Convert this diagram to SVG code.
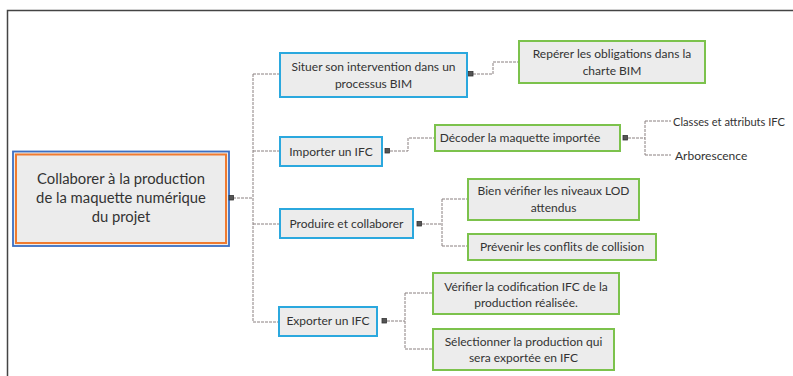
<svg xmlns="http://www.w3.org/2000/svg" width="793" height="376" viewBox="0 0 793 376">
<style>
text{font-family:Lato,"Liberation Sans",sans-serif;fill:#333;text-anchor:middle}
.t{font-size:12px}
.r{font-size:14.8px}
.l{text-anchor:start}
.blue{fill:#ececec;stroke:#2ba8de;stroke-width:2}
.green{fill:#ececec;stroke:#7cc24c;stroke-width:2}
.h{fill:#555;stroke:#333;stroke-width:0.8}
.c{fill:none;stroke:#8a8080;stroke-width:1;stroke-dasharray:3 1}
</style>
<rect width="793" height="376" fill="#fff"/>
<path d="M7.5 376V10.5H793" fill="none" stroke="#444" stroke-width="1.5"/>
<g id="connectors">
<path class="c" d="M233 198H253M253 74V322M253 74H280M253 151H280M253 224H280M253 322H280"/>
<path class="c" d="M473 74H493V62H519"/>
<path class="c" d="M390 151H408V138H435"/>
<path class="c" d="M628 138H645M645 121V155M645 121H671M645 155H671"/>
<path class="c" d="M422 224H442M442 199V246M442 199H468M442 246H468"/>
<path class="c" d="M387 321H405M405 293V349M405 293H433M405 349H433"/>
</g>
<g id="root">
<rect x="13" y="151.5" width="216" height="94.5" fill="#ececec" stroke="#3b6fc4" stroke-width="1.8"/>
<rect x="16" y="154.5" width="210" height="88.5" fill="none" stroke="#f07b30" stroke-width="2"/>
<text class="r" x="121" y="184">Collaborer à la production</text>
<text class="r" x="121" y="203">de la maquette numérique</text>
<text class="r" x="121" y="222">du projet</text>
<rect class="h" x="229" y="195.5" width="4.5" height="4.5"/>
</g>
<g id="situer">
<rect class="blue" x="280" y="53" width="187" height="44"/>
<text class="t" x="373.5" y="71">Situer son intervention dans un</text>
<text class="t" x="373.5" y="88">processus BIM</text>
<rect class="h" x="468.5" y="71.5" width="4.5" height="4.5"/>
</g>
<g id="reperer">
<rect class="green" x="519" y="41" width="186" height="42"/>
<text class="t" x="612" y="58">Repérer les obligations dans la</text>
<text class="t" x="612" y="75">charte BIM</text>
</g>
<g id="importer">
<rect class="blue" x="280" y="137" width="102" height="29"/>
<text class="t" x="331" y="156">Importer un IFC</text>
<rect class="h" x="385" y="148.5" width="4.5" height="4.5"/>
</g>
<g id="decoder">
<rect class="green" x="435" y="125" width="185" height="26"/>
<text class="t" x="520" y="142">Décoder la maquette importée</text>
<rect class="h" x="623" y="135.5" width="4.5" height="4.5"/>
</g>
<g id="classes">
<text class="t l" x="673" y="126" textLength="112" lengthAdjust="spacingAndGlyphs">Classes et attributs IFC</text>
</g>
<g id="arborescence">
<text class="t l" x="675" y="160">Arborescence</text>
</g>
<g id="produire">
<rect class="blue" x="280" y="209" width="133" height="29"/>
<text class="t" x="346.5" y="228">Produire et collaborer</text>
<rect class="h" x="417" y="221.5" width="4.5" height="4.5"/>
</g>
<g id="bien">
<rect class="green" x="468" y="179" width="171" height="41"/>
<text class="t" x="553.5" y="195">Bien vérifier les niveaux LOD</text>
<text class="t" x="553.5" y="212">attendus</text>
</g>
<g id="prevenir">
<rect class="green" x="468" y="234" width="188" height="26"/>
<text class="t" x="562" y="251">Prévenir les conflits de collision</text>
</g>
<g id="exporter">
<rect class="blue" x="279" y="307" width="98" height="29"/>
<text class="t" x="328" y="325">Exporter un IFC</text>
<rect class="h" x="382" y="318.5" width="4.5" height="4.5"/>
</g>
<g id="verifier">
<rect class="green" x="433" y="273" width="186" height="41"/>
<text class="t" x="526" y="291">Vérifier la codification IFC de la</text>
<text class="t" x="526" y="307">production réalisée.</text>
</g>
<g id="selectionner">
<rect class="green" x="433" y="329" width="181" height="41"/>
<text class="t" x="523.5" y="346">Sélectionner la production qui</text>
<text class="t" x="523.5" y="362">sera exportée en IFC</text>
</g>
</svg>
